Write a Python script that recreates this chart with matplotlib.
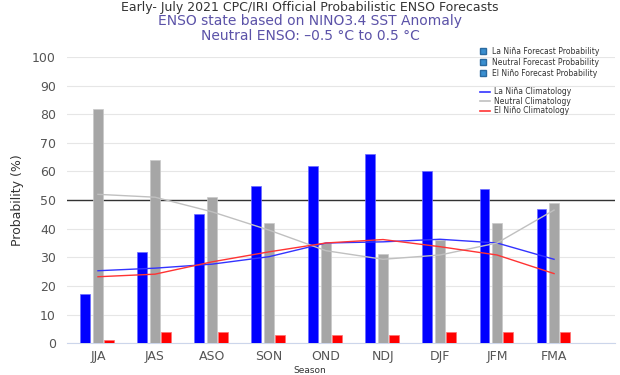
import numpy as np
import matplotlib.pyplot as plt
from matplotlib.lines import Line2D
from matplotlib.patches import Patch

seasons = ['JJA', 'JAS', 'ASO', 'SON', 'OND', 'NDJ', 'DJF', 'JFM', 'FMA']
la_nina = [17, 32, 45, 55, 62, 66, 60, 54, 47]
neutral = [82, 64, 51, 42, 35, 31, 36, 42, 49]
el_nino = [1, 4, 4, 3, 3, 3, 4, 4, 4]

la_nina_clim = [25.3, 26.2, 27.6, 30.2, 35.0, 35.4, 36.3, 35.0, 29.3]
neutral_clim = [52.0, 51.0, 45.9, 39.5, 32.3, 29.3, 30.8, 35.0, 46.5]
el_nino_clim = [23.2, 24.1, 28.4, 31.9, 35.0, 36.2, 33.7, 30.8, 24.3]

fig = plt.figure(figsize=(6.2, 3.75), dpi=100)
ax = fig.add_axes([0.108, 0.085, 0.884, 0.763])

x = np.arange(len(seasons))
w = 0.175
ax.bar(x - 0.22, la_nina, w, color='#0000ff', edgecolor='#6b6bff', linewidth=0.5, zorder=3)
ax.bar(x, neutral, w, color='#a6a6a6', edgecolor='#c8c8c8', linewidth=0.5, zorder=3)
ax.bar(x + 0.2, el_nino, w, color='#ff0000', edgecolor='#ff7070', linewidth=0.5, zorder=3)

ax.plot(x, la_nina_clim, color='#3333ff', lw=1.0, zorder=4)
ax.plot(x, neutral_clim, color='#c0c0c0', lw=1.0, zorder=4)
ax.plot(x, el_nino_clim, color='#ff3333', lw=1.0, zorder=4)

ax.axhline(50, color='#333333', lw=1.0, zorder=2)

ax.set_xlim(-0.544, 9.07)
ax.set_ylim(0, 100)
ax.set_yticks(range(0, 101, 10))
ax.set_xticks(x)
ax.set_xticklabels(seasons)
ax.grid(axis='y', color='#e6e6e6', lw=0.8, zorder=0)
ax.tick_params(axis='y', length=0, labelsize=9, colors='#555555', pad=8)
ax.tick_params(axis='x', length=0, labelsize=9, colors='#555555', pad=5)
for s in ['top', 'right', 'left']:
    ax.spines[s].set_visible(False)
ax.spines['bottom'].set_color('#ccd6eb')
ax.set_ylabel('Probability (%)', fontsize=9, color='#333333', labelpad=6)
fig.text(0.5, 0.0, 'Season', ha='center', va='bottom', fontsize=6.5, color='#333333')

fig.text(0.5, 0.998, 'Early- July 2021 CPC/IRI Official Probabilistic ENSO Forecasts',
         ha='center', va='top', fontsize=9, color='#333333')
fig.text(0.5, 0.945, 'ENSO state based on NINO3.4 SST Anomaly', ha='center', va='center',
         fontsize=10, color='#5b52a8')
fig.text(0.5, 0.903, 'Neutral ENSO: \u20130.5 \u00b0C to 0.5 \u00b0C', ha='center', va='center',
         fontsize=10, color='#5b52a8')

handles1 = [Patch(facecolor='#3a8fd0', edgecolor='#2a6aa0') for _ in range(3)]
labels1 = ['La Niña Forecast Probability', 'Neutral Forecast Probability', 'El Niño Forecast Probability']
leg1 = ax.legend(handles1, labels1, loc='upper left', bbox_to_anchor=(0.768, 0.885), bbox_transform=fig.transFigure,
                 frameon=False, fontsize=5.5, handlelength=0.8, handleheight=0.8, labelspacing=0.25,
                 handletextpad=0.8, labelcolor='#333333', borderpad=0)
ax.add_artist(leg1)
handles2 = [Line2D([], [], color=c, lw=1.2) for c in ['#3333ff', '#c0c0c0', '#ff3333']]
labels2 = ['La Niña Climatology', 'Neutral Climatology', 'El Niño Climatology']
ax.legend(handles2, labels2, loc='upper left', bbox_to_anchor=(0.768, 0.777), bbox_transform=fig.transFigure,
          frameon=False, fontsize=5.5, handlelength=1.3, labelspacing=0.05, handletextpad=0.5,
          labelcolor='#333333', borderpad=0)

fig.savefig('out.png', dpi=100)
